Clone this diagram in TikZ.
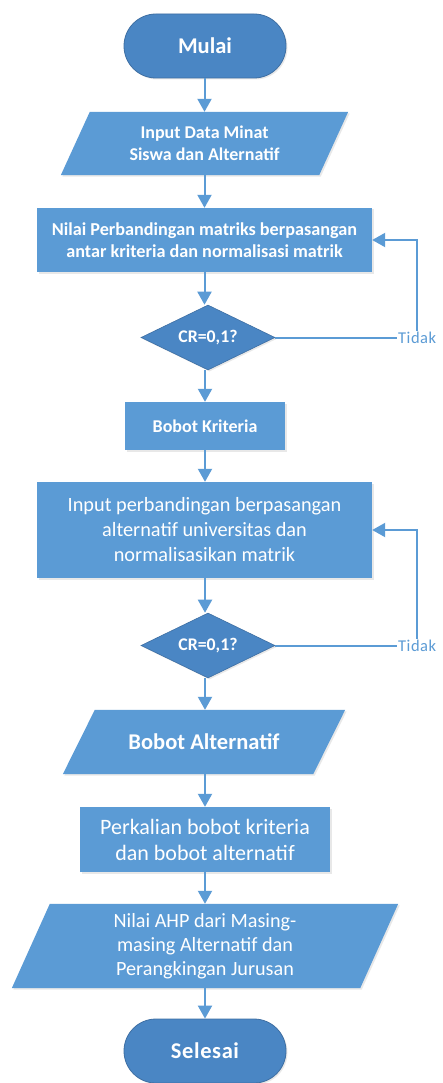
\documentclass[tikz,border=0pt]{standalone}
\usepackage{fontspec}
\setmainfont{Carlito}
\usetikzlibrary{arrows.meta,shapes.geometric,backgrounds,shadows}
\definecolor{boxblue}{HTML}{5B9BD5}
\definecolor{darkblue}{HTML}{4A86C4}
\definecolor{edgeblue}{HTML}{3E6FA3}
\definecolor{linkblue}{HTML}{5B9BD5}
\tikzset{
  shd/.style={drop shadow={opacity=0.18,shadow xshift=1.5pt,shadow yshift=-1.5pt}},
  terminal/.style={rectangle,rounded corners=32pt,fill=darkblue,draw=edgeblue,line width=0.8pt,
    minimum width=162pt,minimum height=64pt,text=white,font=\fontsize{22.5}{26}\selectfont\bfseries,shd},
  procbox/.style={rectangle,fill=boxblue,text=white,align=center,inner sep=0pt,shd},
  iobox/.style={rectangle,inner sep=0pt,text=white,align=center},
  decision/.style={diamond,aspect=2,fill=darkblue,draw=edgeblue,line width=0.6pt,inner sep=0pt,
    minimum width=134pt,minimum height=65pt,text=white,font=\fontsize{17.8}{21}\selectfont\bfseries,shd},
  arr/.style={draw=linkblue,line width=2pt,-{Triangle[length=13pt,width=14pt]}},
  lnk/.style={draw=linkblue,line width=2pt},
  nolabel/.style={text=linkblue,inner sep=1pt,font=\fontsize{16.5}{19}\selectfont},
  para/.style={fill=boxblue,shd}
}
\begin{document}
\begin{tikzpicture}[x=1pt,y=-1pt]
\useasboundingbox (0,0) rectangle (442,1083);

\node[terminal] (mulai) at (205,46) {Mulai};

\node[iobox,minimum width=258pt,minimum height=63pt,font=\fontsize{18}{22}\selectfont\bfseries] (in1) at (204.5,143.5) {Input Data Minat\\Siswa dan Alternatif};

\node[procbox,minimum width=335pt,minimum height=64pt,font=\fontsize{18.2}{22}\selectfont\bfseries] (nilai) at (204.5,240) {Nilai Perbandingan matriks berpasangan\\antar kriteria dan normalisasi matrik};

\node[decision] (d1) at (208,337.5) {CR=0,1?};
\node[nolabel,anchor=west] (t1) at (397,337.5) {T\kern0.5pt i\kern0.5pt d\kern0.5pt a\kern0.5pt k};

\node[procbox,minimum width=160pt,minimum height=48pt,font=\fontsize{18}{21}\selectfont\bfseries] (bk) at (205,426) {Bobot Kriteria};

\node[procbox,minimum width=335pt,minimum height=96pt,font=\fontsize{20.3}{25}\selectfont] (alt) at (204.5,530) {Input perbandingan berpasangan\\alternatif universitas dan\\normalisasikan matrik};

\node[decision] (d2) at (208,645.5) {CR=0,1?};
\node[nolabel,anchor=west] (t2) at (397,645.5) {T\kern0.5pt i\kern0.5pt d\kern0.5pt a\kern0.5pt k};

\node[iobox,minimum width=250pt,minimum height=64pt,font=\fontsize{22.5}{26}\selectfont\bfseries] (ba) at (204,742) {Bobot Alternatif};

\node[procbox,minimum width=250pt,minimum height=65pt,font=\fontsize{22}{26}\selectfont] (kali) at (205,839.5) {Perkalian bobot kriteria\\dan bobot alternatif};

\node[iobox,minimum width=348pt,minimum height=84pt,font=\fontsize{20.2}{24}\selectfont] (ahp) at (205,946) {Nilai AHP dari Masing-\\masing Alternatif dan\\Perangkingan Jurusan};

\node[terminal] (selesai) at (205,1051) {S\kern0.6pt e\kern0.6pt l\kern0.6pt e\kern0.6pt s\kern0.6pt a\kern0.6pt i};

\begin{scope}[on background layer]
  \fill[white] (0,0) rectangle (442,1083);
  \fill[para] ([xshift=14.5pt]in1.north west) -- ([xshift=14.5pt]in1.north east) -- ([xshift=-14.5pt]in1.south east) -- ([xshift=-14.5pt]in1.south west) -- cycle;
  \fill[para] ([xshift=16pt]ba.north west) -- ([xshift=16pt]ba.north east) -- ([xshift=-16pt]ba.south east) -- ([xshift=-16pt]ba.south west) -- cycle;
  \fill[para] ([xshift=19pt]ahp.north west) -- ([xshift=19pt]ahp.north east) -- ([xshift=-19pt]ahp.south east) -- ([xshift=-19pt]ahp.south west) -- cycle;
\end{scope}

\draw[arr] (mulai.south -| in1) -- (in1.north);
\draw[arr] (in1.south) -- (nilai.north -| in1);
\draw[arr] (nilai.south -| in1) -- (d1.north -| in1);
\draw[lnk] (d1.east) -- (t1.west);
\draw[arr] (t1.north) |- (nilai.east);
\draw[arr] (d1.south -| bk) -- (bk.north);
\draw[arr] (bk.south) -- (alt.north -| bk);
\draw[arr] (alt.south -| bk) -- (d2.north -| bk);
\draw[lnk] (d2.east) -- (t2.west);
\draw[arr] (t2.north) |- (alt.east);
\draw[arr] (d2.south -| bk) -- (ba.north -| bk);
\draw[arr] (ba.south -| bk) -- (kali.north -| bk);
\draw[arr] (kali.south -| bk) -- (ahp.north -| bk);
\draw[arr] (ahp.south -| bk) -- (selesai.north -| bk);
\end{tikzpicture}
\end{document}
